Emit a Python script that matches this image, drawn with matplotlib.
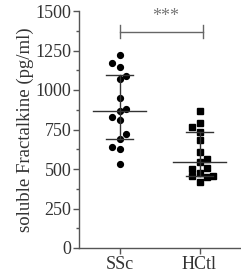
import matplotlib
matplotlib.use('Agg')
import matplotlib.pyplot as plt

plt.rcParams['font.family'] = ['Liberation Serif', 'DejaVu Serif']

# Data (pg/ml)
groups = ['SSc', 'HCtl']
ssc_vals = [1222, 1173, 1147, 1089, 1070, 951, 878, 867, 827, 810, 722, 690, 637, 628, 532]
ssc_jit = [0, -0.1, 0, 0.08, 0, 0, 0.08, 0, -0.1, 0, 0.08, 0, -0.1, 0, 0]
hctl_vals = [867, 789, 764, 736, 684, 609, 561, 546, 500, 504, 477, 456, 447, 458, 416]
hctl_jit = [0, 0, -0.1, 0, 0, 0, 0.09, 0, -0.1, 0.09, 0, -0.1, 0.09, 0.175, 0]
means = [867, 546]
sd_hi = [1095, 736]
sd_lo = [692, 456]
sig_label = '***'
sig_y = 1369

AX_C = '#555555'
TXT_C = '#333333'

fig = plt.figure(figsize=(2.41, 2.76), dpi=100)
ax = fig.add_axes([79 / 241, 28 / 276, 162 / 241, 237 / 276])

ax.plot([0 + j for j in ssc_jit], ssc_vals, 'o', ms=4.2, color='black', mec='black')
ax.plot([1 + j for j in hctl_jit], hctl_vals, 's', ms=4.0, color='black', mec='black')

for i in range(2):
    ax.plot([i - 0.33, i + 0.33], [means[i], means[i]], color='#333333', lw=1.0)
    ax.plot([i - 0.167, i + 0.167], [sd_hi[i], sd_hi[i]], color='#333333', lw=1.0)
    ax.plot([i - 0.167, i + 0.167], [sd_lo[i], sd_lo[i]], color='#333333', lw=1.0)
    ax.plot([i, i], [sd_lo[i], sd_hi[i]], color='#333333', lw=1.0)

# significance bracket
ax.plot([0.01, 1.04], [sig_y, sig_y], color='#666666', lw=1.0)
ax.plot([0.01, 0.01], [sig_y - 40, sig_y + 40], color='#666666', lw=1.0)
ax.plot([1.04, 1.04], [sig_y - 40, sig_y + 40], color='#666666', lw=1.0)
ax.text(0.58, sig_y + 40, sig_label, ha='center', va='bottom', fontsize=13, color='#777777')

ax.set_xlim(-0.51, 1.52)
ax.set_ylim(0, 1500)
ax.set_yticks(range(0, 1501, 250))
ax.set_yticks(range(125, 1500, 250), minor=True)
ax.set_xticks([0, 1])
ax.set_xticklabels(groups)
ax.set_ylabel('soluble Fractalkine (pg/ml)', fontsize=13.5, color=TXT_C, labelpad=1)

for s in ['top', 'right']:
    ax.spines[s].set_visible(False)
for s in ['left', 'bottom']:
    ax.spines[s].set_color(AX_C)
    ax.spines[s].set_linewidth(1.0)
ax.tick_params(axis='both', which='major', length=4, width=1.0, color=AX_C,
               labelsize=13, labelcolor=TXT_C, pad=1.5)
ax.tick_params(axis='y', which='minor', length=2.5, width=1.0, color=AX_C)

fig.savefig('out.png', dpi=100)
